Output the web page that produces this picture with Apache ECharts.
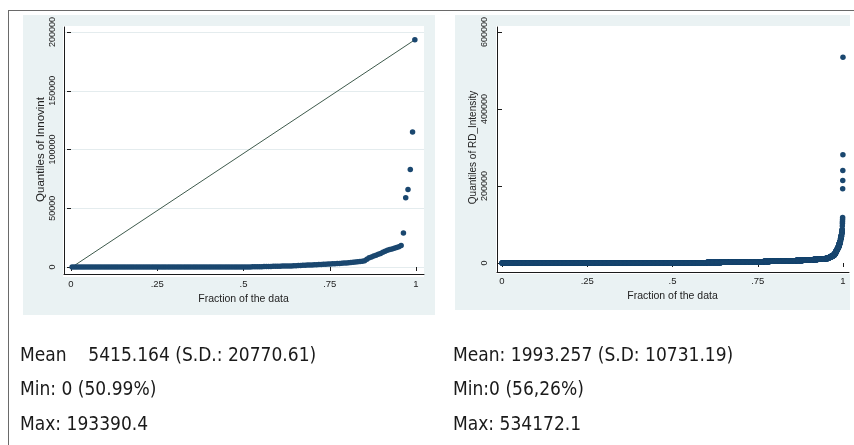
<!DOCTYPE html>
<html><head><meta charset="utf-8">
<script src="https://cdn.jsdelivr.net/npm/echarts@6/dist/echarts.min.js"></script>
<style>html,body{margin:0;padding:0;background:#fff}#c{width:854px;height:445px}</style>
</head><body><div id="c"></div>
<script>
// ---------- DATA ----------
// Left panel: quantiles of Innovint (151 obs, sorted)
const innovZeroCount = 77;
const innovPositive = [
  50,80,120,150,200,250,300,350,400,450,500,550,
  600,650,700,750,800,850,900,950,1000,1100,1200,1300,
  1400,1500,1600,1700,1800,1900,2000,2100,2200,2300,2400,2500,
  2600,2700,2800,2900,3000,3100,3300,3500,3700,3900,
  4100,4300,4500,4700,5000,5400,
  6500,7800,8600,9300,10000,10800,
  11500,12500,13500,14200,14800,
  15400,16000,16600,17300,18200,
  29000,59000,66000,83000,115000,193390.4
];
const innovYTicks = [0, 50000, 100000, 150000, 200000];

// Right panel: quantiles of RD_Intensity (sorted, as value / count table)
const rdZeroCount = 2733;
const rdValues = [
  300,600,900,
  1100,1300,1500,1700,2000,
  2300,2600,2900,3200,3500,3800,
  4300,4800,5300,5900,6500,7200,
  8000,8800,9700,10700,12000,13700,
  15500,18000,21000,25000,30000,
  34000,38000,43000,50000,
  56000,63000,70000,78000,86000,
  96000,103000,108000,113000,118000,
  193000,214000,240000,281000,534172.1
];
const rdCounts = [
  60,60,62,
  70,70,70,65,66,
  90,90,90,100,100,90,
  90,90,90,100,100,90,
  60,60,60,50,40,22,
  25,25,20,15,13,
  12,12,12,12,
  8,8,8,6,4,
  1,1,1,1,1,
  1,1,1,1,1
];
const rdYTicks = [0, 200000, 400000, 600000];

const fractionTicks = [0, 0.25, 0.5, 0.75, 1];
const fractionTickLabels = ['0', '.25', '.5', '.75', '1'];

const leftTitle = 'Quantiles of Innovint';
const rightTitle = 'Quantiles of RD_Intensity';
const xTitle = 'Fraction of the data';

const statsLeft = ['Mean    5415.164 (S.D.: 20770.61)', 'Min: 0 (50.99%)', 'Max: 193390.4'];
const statsRight = ['Mean: 1993.257 (S.D: 10731.19)', 'Min:0 (56,26%)', 'Max: 534172.1'];

// ---------- BUILD ----------
function quantilePoints(sorted) {
  const n = sorted.length;
  return sorted.map((v, i) => [(i + 0.5) / n, v]);
}
const innovSorted = [];
for (let i = 0; i < innovZeroCount; i++) innovSorted.push(0);
innovPositive.forEach(v => innovSorted.push(v));
const innovPts = quantilePoints(innovSorted);

const rdSorted = [];
for (let i = 0; i < rdZeroCount; i++) rdSorted.push(0);
rdValues.forEach((v, k) => { for (let j = 0; j < rdCounts[k]; j++) rdSorted.push(v); });
const rdPts = quantilePoints(rdSorted);

const refLine = [innovPts[0], innovPts[innovPts.length - 1]];

const NAVY = '#1a476f';
const AX = '#1b1b1b';
const labelFont = '"Liberation Sans", Arial, sans-serif';

function fracLabel(v) {
  const k = fractionTicks.findIndex(t => Math.abs(t - v) < 1e-9);
  return k >= 0 ? fractionTickLabels[k] : '';
}

function dataX(gridIndex, offset, gap) {
  return {
    gridIndex, type: 'value', min: fractionTicks[0], max: fractionTicks[fractionTicks.length - 1], interval: 0.25,
    offset,
    axisLine: { show: false },
    axisTick: { show: true, length: 4, lineStyle: { color: AX, width: 1 } },
    axisLabel: { formatter: fracLabel, fontFamily: labelFont, fontSize: 9.5, color: '#222', margin: 5 },
    splitLine: { show: false },
    name: xTitle, nameLocation: 'middle', nameGap: gap,
    nameTextStyle: { fontFamily: labelFont, fontSize: 10.5, color: '#222' }
  };
}
function dataY(gridIndex, ticks, offset, name, nameSize, gap, margin) {
  return {
    gridIndex, type: 'value', min: ticks[0], max: ticks[ticks.length - 1], interval: ticks[1] - ticks[0],
    offset,
    axisLine: { show: false },
    axisTick: { show: true, length: 4, lineStyle: { color: AX, width: 1 } },
    axisLabel: { rotate: 90, fontFamily: labelFont, fontSize: 9, color: '#222', margin,
      formatter: v => String(v) },
    splitLine: { show: false },
    name, nameLocation: 'middle', nameRotate: 90, nameGap: gap,
    nameTextStyle: { fontFamily: labelFont, fontSize: nameSize, color: '#222' }
  };
}
function frameX(gridIndex) {
  return { gridIndex, type: 'value', min: 0, max: 1, axisLine: { show: true, lineStyle: { color: AX, width: 1 } },
    axisTick: { show: false }, axisLabel: { show: false }, splitLine: { show: false } };
}
function frameY(gridIndex) {
  return { gridIndex, type: 'value', min: 0, max: 1, axisLine: { show: true, lineStyle: { color: AX, width: 1 } },
    axisTick: { show: false }, axisLabel: { show: false }, splitLine: { show: false } };
}

const statsFont = '"DejaVu Sans Condensed", "Liberation Sans Narrow", "DejaVu Sans", sans-serif';
const graphics = [
  { type: 'line', shape: { x1: 8, y1: 10.5, x2: 854, y2: 10.5 }, style: { stroke: '#6a6a6a', lineWidth: 1 }, z: -5 },
  { type: 'line', shape: { x1: 8.5, y1: 10, x2: 8.5, y2: 445 }, style: { stroke: '#6a6a6a', lineWidth: 1 }, z: -5 },
  { type: 'rect', shape: { x: 23, y: 15, width: 412, height: 300 }, style: { fill: '#eaf2f3' }, z: -10 },
  { type: 'rect', shape: { x: 455, y: 15, width: 395, height: 295 }, style: { fill: '#eaf2f3' }, z: -10 },
  { type: 'rect', shape: { x: 63, y: 26, width: 361, height: 251 }, style: { fill: '#ffffff' }, z: -9 },
  { type: 'rect', shape: { x: 496, y: 26, width: 354, height: 248 }, style: { fill: '#ffffff' }, z: -9 }
];
const rowsY = [356, 390, 425];
statsLeft.forEach((t, i) => graphics.push({ type: 'text', x: 20, y: rowsY[i],
  style: { text: t, font: '19px ' + statsFont, fill: '#1a1a1a', verticalAlign: 'middle' } }));
statsRight.forEach((t, i) => graphics.push({ type: 'text', x: 453, y: rowsY[i],
  style: { text: t, font: '19px ' + statsFont, fill: '#1a1a1a', verticalAlign: 'middle' } }));

const option = {
  backgroundColor: '#ffffff',
  animation: false,
  graphic: { elements: graphics },
  grid: [
    { left: 71, right: 438, top: 32, bottom: 178 },   // 0 left data
    { left: 64, right: 430, top: 27, bottom: 171 },   // 1 left frame
    { left: 64, right: 430, top: 32, bottom: 178 },   // 2 left gridlines
    { left: 502, right: 11, top: 32, bottom: 182 },   // 3 right data
    { left: 497, right: 5, top: 27, bottom: 173 }     // 4 right frame
  ],
  xAxis: [
    dataX(0, 7, 9),
    frameX(1),
    { gridIndex: 2, type: 'value', min: 0, max: 1, show: false },
    dataX(3, 8, 8),
    frameX(4)
  ],
  yAxis: [
    dataY(0, innovYTicks, 7, leftTitle, 11.5, 17, 7),
    frameY(1),
    { gridIndex: 2, type: 'value', min: innovYTicks[0], max: innovYTicks[innovYTicks.length - 1], interval: 50000,
      axisLine: { show: false }, axisTick: { show: false }, axisLabel: { show: false },
      splitLine: { show: true, lineStyle: { color: '#e4ecee', width: 1 } } },
    dataY(3, rdYTicks, 5, rightTitle, 10, 19, 8),
    frameY(4)
  ],
  series: [
    { type: 'line', xAxisIndex: 0, yAxisIndex: 0, data: refLine, symbol: 'none',
      lineStyle: { color: '#3e5a4c', width: 1 }, z: 1, silent: true },
    { type: 'scatter', xAxisIndex: 0, yAxisIndex: 0, data: innovPts, symbol: 'circle', symbolSize: 5.5,
      itemStyle: { color: NAVY, opacity: 1 }, z: 2 },
    { type: 'scatter', xAxisIndex: 3, yAxisIndex: 3, data: rdPts, symbol: 'circle', symbolSize: 5.5,
      itemStyle: { color: NAVY, opacity: 1 }, z: 2, large: false }
  ]
};
const chart = echarts.init(document.getElementById('c'), null, { renderer: 'canvas' });
chart.setOption(option);
</script>
</body></html>
